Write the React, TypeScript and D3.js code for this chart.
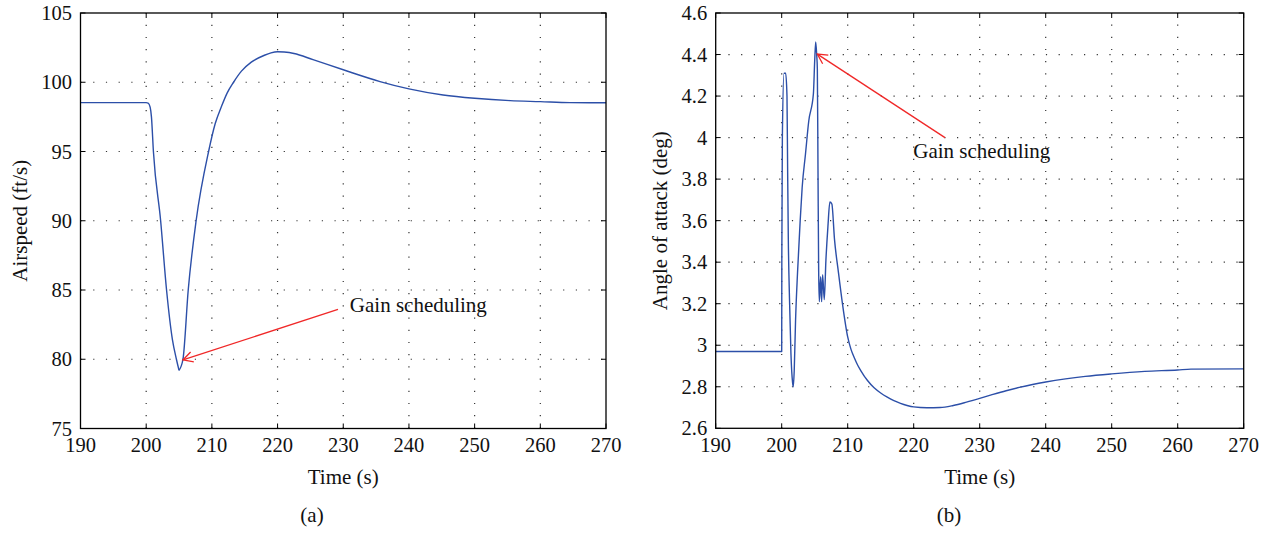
import React from "react";
import * as d3 from "d3";

// ---- Data ----
const xTicks = [190, 200, 210, 220, 230, 240, 250, 260, 270];

const airspeedTime = [
  190, 200, 200.3, 200.6, 200.8, 201.1, 202.2, 203.1, 204.0, 204.6, 205.0, 205.6, 206.4,
  207.6, 209.5, 210.5, 211.5, 212.3, 213.3, 214.5, 216.0, 218.0, 219.0, 220.0, 221.0, 222.5,
  225.4, 230, 235.6, 240, 245.2, 250, 255.4, 260, 264.5, 270,
];
const airspeedValue = [
  98.53, 98.53, 98.5, 98.2, 97.5, 95.0, 90.0, 85.0, 81.4, 80.0, 79.2, 80.0, 85.0,
  90.0, 95.0, 97.0, 98.3, 99.2, 100.0, 100.8, 101.45, 101.95, 102.12, 102.2, 102.18, 102.08,
  101.63, 100.9, 100.05, 99.52, 99.08, 98.84, 98.67, 98.6, 98.53, 98.52,
];
const airspeedTicks = [75, 80, 85, 90, 95, 100, 105];

const aoaTime = [
  190, 200, 200.02, 200.1, 200.35, 200.6, 200.8, 200.9, 201.0, 201.2, 201.4, 201.65, 201.75,
  201.9, 202.1, 202.4, 202.8, 203.1, 203.6, 204.1, 204.8, 205.0, 205.15, 205.3, 205.4, 205.5,
  205.6, 205.7, 205.9, 206.05, 206.2, 206.45, 206.7, 207.0, 207.3, 207.6, 208.0, 208.6, 209.25,
  210.0, 210.5, 211.0, 211.5, 212.0, 213.0, 214.0, 215.0, 216.0, 217.0, 218.0, 219.0, 220.0,
  222.0, 224.0, 226.0, 228.0, 230.0, 232.0, 234.0, 236.0, 238.0, 240.0, 243.0, 246.0, 250.0,
  255.0, 260.0, 262.0, 270.0,
];
const aoaValue = [
  2.97, 2.97, 3.43, 4.0, 4.31, 4.31, 4.2, 3.84, 3.52, 3.2, 2.96, 2.82, 2.8,
  2.88, 3.12, 3.35, 3.6, 3.76, 3.92, 4.08, 4.21, 4.37, 4.46, 4.4, 4.33, 3.84,
  3.36, 3.21, 3.33, 3.21, 3.34, 3.22, 3.41, 3.57, 3.69, 3.68, 3.51, 3.35, 3.19,
  3.04, 2.98, 2.94, 2.905, 2.877, 2.83, 2.795, 2.77, 2.75, 2.733, 2.72, 2.71, 2.703,
  2.699, 2.7, 2.71, 2.726, 2.744, 2.763, 2.781, 2.797, 2.811, 2.823, 2.838, 2.85, 2.862,
  2.874, 2.881, 2.885, 2.886,
];
const aoaTicks = [2.6, 2.8, 3.0, 3.2, 3.4, 3.6, 3.8, 4.0, 4.2, 4.4, 4.6];

const FONT = "'Liberation Serif', 'Times New Roman', serif";
const LINE = "#2c4fa8";
const RED = "#f02828";

type PanelProps = {
  x0: number; x1: number; y0: number; y1: number;
  yDomain: [number, number];
  yTicks: number[];
  yFmt: (v: number) => string;
  t: number[]; v: number[];
  ylabel: string;
  ylabelX: number;
  letter: string;
  letterX: number;
  arrowTip: [number, number];
  arrowTail: [number, number];
  textPos: [number, number];
  splitAtMin: boolean;
};

function Panel(p: PanelProps) {
  const x = d3.scaleLinear().domain([190, 270]).range([p.x0, p.x1]);
  const y = d3.scaleLinear().domain(p.yDomain).range([p.y1, p.y0]);
  const pts: [number, number][] = p.t.map((t, i) => [t, p.v[i]]);
  const line = d3
    .line<[number, number]>()
    .x((d) => x(d[0]))
    .y((d) => y(d[1]))
    .curve(d3.curveMonotoneX);
  let segs: [number, number][][] = [pts];
  if (p.splitAtMin) {
    const mi = d3.minIndex(p.v);
    segs = [pts.slice(0, mi + 1), pts.slice(mi)];
  }
  const tl = 5;
  const tip = [x(p.arrowTip[0]), y(p.arrowTip[1])];
  const tail = [x(p.arrowTail[0]), y(p.arrowTail[1])];
  const ang = Math.atan2(tail[1] - tip[1], tail[0] - tip[0]);
  const al = 11;
  const da = (28 * Math.PI) / 180;
  const a1 = [tip[0] + al * Math.cos(ang - da), tip[1] + al * Math.sin(ang - da)];
  const a2 = [tip[0] + al * Math.cos(ang + da), tip[1] + al * Math.sin(ang + da)];
  const cx = (p.x0 + p.x1) / 2;
  const cy = (p.y0 + p.y1) / 2;
  return (
    <g>
      {/* grid */}
      {xTicks.slice(1, -1).map((t) => (
        <line key={"gx" + t} x1={x(t)} x2={x(t)} y1={p.y1} y2={p.y0}
          stroke="#333" strokeWidth={1.2} strokeDasharray="1.2,11" />
      ))}
      {p.yTicks.slice(1, -1).map((t) => (
        <line key={"gy" + t} x1={p.x0} x2={p.x1} y1={y(t)} y2={y(t)}
          stroke="#333" strokeWidth={1.2} strokeDasharray="1.2,11.5" />
      ))}
      {/* ticks */}
      {xTicks.map((t) => (
        <g key={"tx" + t}>
          <line x1={x(t)} x2={x(t)} y1={p.y1} y2={p.y1 - tl} stroke="#000" strokeWidth={1} />
          <line x1={x(t)} x2={x(t)} y1={p.y0} y2={p.y0 + tl} stroke="#000" strokeWidth={1} />
          <text x={x(t)} y={452} textAnchor="middle" fontFamily={FONT} fontSize={20.5} fill="#111">
            {t}
          </text>
        </g>
      ))}
      {p.yTicks.map((t) => (
        <g key={"ty" + t}>
          <line x1={p.x0} x2={p.x0 + tl} y1={y(t)} y2={y(t)} stroke="#000" strokeWidth={1} />
          <line x1={p.x1} x2={p.x1 - tl} y1={y(t)} y2={y(t)} stroke="#000" strokeWidth={1} />
          <text x={p.x0 - 8.5} y={y(t)} dy="0.35em" textAnchor="end" fontFamily={FONT} fontSize={20.5} fill="#111">
            {p.yFmt(t)}
          </text>
        </g>
      ))}
      {/* data */}
      {segs.map((s, i) => (
        <path key={"seg" + i} d={line(s) || ""} fill="none" stroke={LINE} strokeWidth={1.4} strokeLinejoin="round" />
      ))}
      {/* frame */}
      <rect x={p.x0} y={p.y0} width={p.x1 - p.x0} height={p.y1 - p.y0} fill="none" stroke="#000" strokeWidth={1.3} />
      {/* annotation */}
      <line x1={tail[0]} y1={tail[1]} x2={tip[0]} y2={tip[1]} stroke={RED} strokeWidth={1.3} />
      <polyline points={`${a1[0]},${a1[1]} ${tip[0]},${tip[1]} ${a2[0]},${a2[1]}`} fill="none" stroke={RED} strokeWidth={1.3} />
      <text x={x(p.textPos[0])} y={y(p.textPos[1])} fontFamily={FONT} fontSize={21} fill="#111">
        Gain scheduling
      </text>
      {/* labels */}
      <text x={cx} y={484} textAnchor="middle" fontFamily={FONT} fontSize={21} fill="#111">
        Time (s)
      </text>
      <text x={p.letterX} y={522} textAnchor="middle" fontFamily={FONT} fontSize={21} fill="#111">
        {p.letter}
      </text>
      <text transform={`translate(${p.ylabelX},${cy}) rotate(-90)`} textAnchor="middle" fontFamily={FONT} fontSize={21} fill="#111">
        {p.ylabel}
      </text>
    </g>
  );
}

export default function App() {
  return (
    <svg width={1270} height={533} style={{ position: "absolute", left: 0, top: 0, background: "#fff" }}>
      <rect x={0} y={0} width={1270} height={533} fill="#fff" />
      <Panel
        x0={80.5} x1={606} y0={13} y1={428.5}
        yDomain={[75, 105]} yTicks={airspeedTicks} yFmt={(v) => String(v)}
        t={airspeedTime} v={airspeedValue}
        ylabel="Airspeed (ft/s)" ylabelX={27}
        letter="(a)" letterX={312}
        arrowTip={[205.6, 79.95]} arrowTail={[229.2, 83.6]} textPos={[231.0, 83.44]}
        splitAtMin={true}
      />
      <Panel
        x0={715.7} x1={1243.7} y0={13} y1={428.3}
        yDomain={[2.6, 4.6]} yTicks={aoaTicks} yFmt={(v) => d3.format("~g")(+v.toFixed(1))}
        t={aoaTime} v={aoaValue}
        ylabel="Angle of attack (deg)" ylabelX={667}
        letter="(b)" letterX={949}
        arrowTip={[205.4, 4.402]} arrowTail={[224.74, 4.0]} textPos={[219.94, 3.9]}
        splitAtMin={false}
      />
    </svg>
  );
}
